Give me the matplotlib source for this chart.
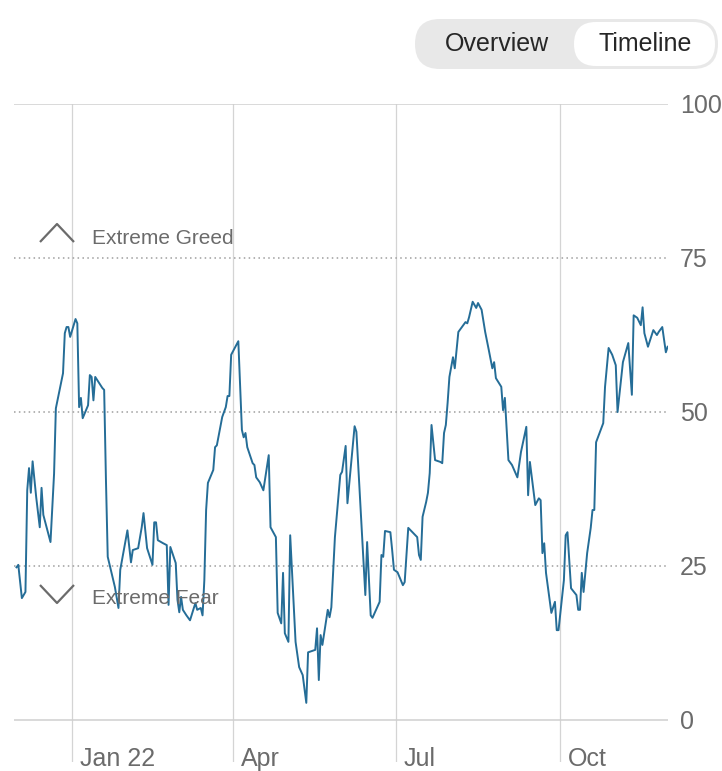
import matplotlib
matplotlib.use('Agg')
import matplotlib.pyplot as plt
import matplotlib.dates as mdates
import matplotlib.transforms as mtransforms
from matplotlib.patches import FancyBboxPatch
from datetime import datetime
import numpy as np

plt.rcParams['font.family'] = ['Liberation Sans', 'DejaVu Sans']

dates = [
    "2021-12-01", "2021-12-02", "2021-12-04", "2021-12-06", "2021-12-07", "2021-12-08",
    "2021-12-09", "2021-12-10", "2021-12-12", "2021-12-14", "2021-12-15", "2021-12-16",
    "2021-12-20", "2021-12-22", "2021-12-23", "2021-12-27", "2021-12-28", "2021-12-29",
    "2021-12-30", "2021-12-31", "2022-01-02", "2022-01-03", "2022-01-04", "2022-01-05",
    "2022-01-06", "2022-01-07", "2022-01-10", "2022-01-11", "2022-01-12", "2022-01-13",
    "2022-01-14", "2022-01-18", "2022-01-19", "2022-01-20", "2022-01-21", "2022-01-25",
    "2022-01-27", "2022-01-28", "2022-02-01", "2022-02-03", "2022-02-04", "2022-02-07",
    "2022-02-09", "2022-02-10", "2022-02-12", "2022-02-15", "2022-02-16", "2022-02-17",
    "2022-02-18", "2022-02-21", "2022-02-23", "2022-02-24", "2022-02-25", "2022-02-28",
    "2022-03-01", "2022-03-02", "2022-03-03", "2022-03-04", "2022-03-06", "2022-03-08",
    "2022-03-11", "2022-03-12", "2022-03-14", "2022-03-15", "2022-03-16", "2022-03-17",
    "2022-03-18", "2022-03-21", "2022-03-22", "2022-03-23", "2022-03-26", "2022-03-28",
    "2022-03-29", "2022-03-30", "2022-03-31", "2022-04-04", "2022-04-06", "2022-04-07",
    "2022-04-08", "2022-04-09", "2022-04-12", "2022-04-13", "2022-04-14", "2022-04-16",
    "2022-04-18", "2022-04-21", "2022-04-22", "2022-04-25", "2022-04-26", "2022-04-28",
    "2022-04-29", "2022-04-30", "2022-05-02", "2022-05-03", "2022-05-06", "2022-05-08",
    "2022-05-10", "2022-05-12", "2022-05-13", "2022-05-17", "2022-05-18", "2022-05-19",
    "2022-05-20", "2022-05-21", "2022-05-24", "2022-05-25", "2022-05-26", "2022-05-28",
    "2022-05-31", "2022-06-01", "2022-06-03", "2022-06-04", "2022-06-08", "2022-06-09",
    "2022-06-14", "2022-06-15", "2022-06-17", "2022-06-18", "2022-06-22", "2022-06-23",
    "2022-06-24", "2022-06-25", "2022-06-28", "2022-06-29", "2022-06-30", "2022-07-02",
    "2022-07-05", "2022-07-06", "2022-07-08", "2022-07-12", "2022-07-13", "2022-07-14",
    "2022-07-15", "2022-07-16", "2022-07-18", "2022-07-19", "2022-07-20", "2022-07-21",
    "2022-07-23", "2022-07-26", "2022-07-27", "2022-07-28", "2022-07-29", "2022-07-30",
    "2022-07-31", "2022-08-02", "2022-08-03", "2022-08-04", "2022-08-05", "2022-08-07",
    "2022-08-09", "2022-08-10", "2022-08-11", "2022-08-13", "2022-08-15", "2022-08-16",
    "2022-08-18", "2022-08-20", "2022-08-22", "2022-08-24", "2022-08-25", "2022-08-26",
    "2022-08-29", "2022-08-30", "2022-08-31", "2022-09-02", "2022-09-04", "2022-09-07",
    "2022-09-09", "2022-09-12", "2022-09-13", "2022-09-14", "2022-09-17", "2022-09-19",
    "2022-09-20", "2022-09-21", "2022-09-22", "2022-09-23", "2022-09-26", "2022-09-28",
    "2022-09-29", "2022-09-30", "2022-10-03", "2022-10-04", "2022-10-05", "2022-10-07",
    "2022-10-10", "2022-10-11", "2022-10-12", "2022-10-13", "2022-10-14", "2022-10-16",
    "2022-10-18", "2022-10-19", "2022-10-20", "2022-10-21", "2022-10-25", "2022-10-26",
    "2022-10-28", "2022-10-30", "2022-11-01", "2022-11-02", "2022-11-05", "2022-11-08",
    "2022-11-10", "2022-11-11", "2022-11-13", "2022-11-15", "2022-11-16", "2022-11-17",
    "2022-11-19", "2022-11-22", "2022-11-24", "2022-11-25", "2022-11-27", "2022-11-29",
    "2022-11-30",
]

values = [
    24.8, 25.2, 19.8, 20.8, 37.3, 40.9,
    36.9, 42.0, 36.2, 31.3, 37.7, 33.3,
    28.9, 40.0, 50.6, 56.3, 62.8, 63.8,
    63.8, 62.2, 64.1, 65.1, 64.4, 50.8,
    52.3, 49.0, 51.1, 56.0, 55.7, 51.9,
    55.7, 53.9, 53.6, 39.0, 26.5, 21.6,
    18.2, 24.4, 30.8, 25.6, 27.6, 27.9,
    31.3, 33.6, 27.9, 25.2, 32.1, 32.1,
    29.2, 28.7, 28.4, 18.7, 28.1, 25.5,
    19.5, 17.5, 20.0, 17.9, 17.0, 16.2,
    19.0, 17.9, 18.2, 17.0, 22.7, 34.1,
    38.5, 40.6, 44.3, 44.6, 49.2, 50.8,
    52.6, 52.6, 59.3, 61.5, 47.1, 45.9,
    46.6, 44.3, 41.7, 41.4, 39.4, 38.6,
    37.3, 43.0, 31.3, 29.7, 17.4, 15.7,
    23.9, 14.1, 12.7, 30.0, 12.7, 8.6,
    7.3, 2.8, 11.0, 11.4, 14.9, 6.5,
    13.8, 12.2, 17.9, 16.7, 18.3, 29.7,
    39.8, 40.3, 44.5, 35.2, 47.7, 46.8,
    20.3, 28.9, 17.0, 16.6, 19.2, 26.8,
    26.5, 30.7, 30.5, 27.6, 24.4, 24.0,
    21.9, 22.4, 31.2, 30.0, 29.7, 26.8,
    26.0, 33.0, 35.4, 36.9, 40.1, 47.9,
    42.2, 41.9, 41.7, 46.6, 47.9, 51.5,
    55.7, 58.9, 57.1, 60.1, 63.0, 63.8,
    64.6, 64.4, 65.4, 67.9, 66.9, 67.7,
    66.6, 63.0, 60.1, 57.1, 58.1, 55.5,
    54.1, 50.3, 52.3, 42.2, 41.4, 39.4,
    43.5, 47.6, 36.5, 41.9, 34.9, 36.0,
    35.7, 27.1, 28.7, 23.9, 17.4, 19.2,
    14.6, 14.6, 22.7, 30.0, 30.5, 21.4,
    20.3, 17.9, 17.9, 23.9, 20.8, 27.1,
    31.2, 34.1, 34.1, 45.1, 48.2, 54.1,
    60.4, 59.3, 57.6, 50.0, 58.1, 61.2,
    52.8, 65.7, 65.3, 64.1, 67.0, 62.8,
    60.6, 63.3, 62.5, 63.0, 63.8, 59.7,
    60.6,
]

month_ticks = ["2022-01-01", "2022-04-01", "2022-07-01", "2022-10-01"]
month_labels = ["Jan 22", "Apr", "Jul", "Oct"]
y_ticks = [0, 25, 50, 75, 100]

W, H = 722, 771
fig = plt.figure(figsize=(W / 100, H / 100), dpi=100)
fig.patch.set_facecolor('white')

# main chart: x pixels 14..668, y pixels 104..762 (value 0 at 720)
ax = fig.add_axes([14 / W, (H - 762) / H, 654 / W, 658 / H])
ax.set_facecolor('none')
for s in ax.spines.values():
    s.set_visible(False)
ax.set_xticks([])
ax.set_yticks([])

x = [datetime.strptime(d, "%Y-%m-%d") for d in dates]
base = mdates.date2num(datetime(2022, 1, 1))
ax.set_xlim(base - 32.4, base + 333.2)
ax.set_ylim(-6.8, 100)

grey = '#6b6b6b'
for t in month_ticks:
    ax.axvline(datetime.strptime(t, "%Y-%m-%d"), color='#d4d4d4', lw=0.9, zorder=1)

for v in y_ticks:
    if v in (0, 100):
        ax.axhline(v, color='#cfcfcf', lw=1.1, zorder=1)
    else:
        ax.axhline(v, color='#9e9e9e', lw=1.1, ls=(0, (1, 2.2)), zorder=1)

ax.plot(x, values, color='#256d97', lw=1.4, zorder=3)

# x labels to the right of the grid lines
xoff = mtransforms.offset_copy(ax.transData, fig=fig, x=8, y=0, units='dots')
for t, lab in zip(month_ticks, month_labels):
    ax.text(datetime.strptime(t, "%Y-%m-%d"), -7.4, lab, transform=xoff,
            ha='left', va='baseline', fontsize=18, color=grey, clip_on=False)

# y labels on the right
ytr = mtransforms.blended_transform_factory(ax.transAxes, ax.transData)
yoff = mtransforms.offset_copy(ytr, fig=fig, x=0, y=-9, units='dots')
for v in y_ticks:
    ax.text(1.018, v, str(v), transform=yoff, ha='left', va='baseline',
            fontsize=18, color=grey, clip_on=False)

# overlay in pixel coordinates for the toggle and annotations
ov = fig.add_axes([0, 0, 1, 1])
ov.set_xlim(0, W)
ov.set_ylim(H, 0)
ov.axis('off')
ov.patch.set_alpha(0)

ov.add_patch(FancyBboxPatch((415, 19), 303, 50, boxstyle="round,pad=0,rounding_size=25",
                            fc='#e8e8e8', ec='none'))
ov.add_patch(FancyBboxPatch((574, 22), 141, 44, boxstyle="round,pad=0,rounding_size=22",
                            fc='white', ec='none'))
ov.text(497, 44, "Overview", ha='center', va='center', fontsize=18, color='#262626')
ov.text(645, 44, "Timeline", ha='center', va='center', fontsize=18, color='#262626')

ov.plot([40, 57, 74], [242, 224, 242], color=grey, lw=1.6, solid_capstyle='butt')
ov.plot([40, 57, 74], [585, 603, 585], color=grey, lw=1.6, solid_capstyle='butt')
ov.text(92, 238, "Extreme Greed", ha='left', va='center', fontsize=15, color=grey)
ov.text(92, 598, "Extreme Fear", ha='left', va='center', fontsize=15, color=grey)

fig.savefig('out.png', dpi=100, facecolor='white')
